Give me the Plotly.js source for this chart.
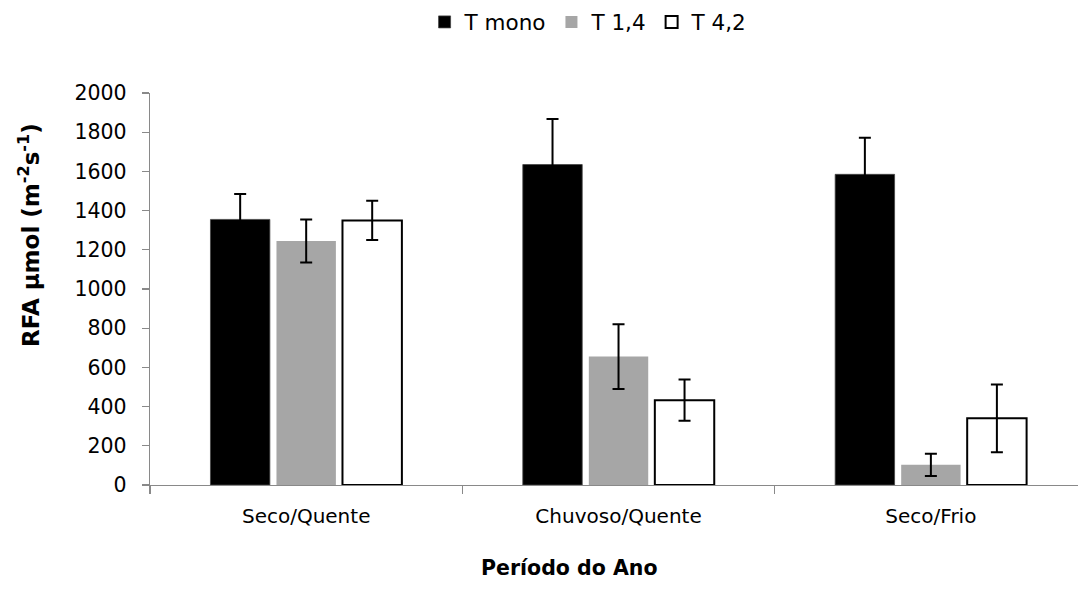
<!DOCTYPE html>
<html>
<head>
<meta charset="utf-8">
<script src="https://cdn.plot.ly/plotly-3.0.1.min.js"></script>
<style>html,body{margin:0;padding:0;background:#fff;overflow:hidden}#chart{width:1078px;height:592px}</style>
</head>
<body>
<div id="chart"></div>
<script>
const categories = ["Seco/Quente", "Chuvoso/Quente", "Seco/Frio"];
const seriesNames = ["T mono", "T 1,4", "T 4,2"];
const tMono = [1355, 1635, 1585];
const tMonoErr = [130, 232, 187];
const t14 = [1245, 655, 103];
const t14Err = [110, 165, 57];
const t42 = [1350, 433, 340];
const t42Err = [100, 105, 173];
const yTicks = [0, 200, 400, 600, 800, 1000, 1200, 1400, 1600, 1800, 2000];

const FONT = "DejaVu Sans, Open Sans, sans-serif";
const err = (a) => ({type: "data", array: a, visible: true, color: "#000", thickness: 2, width: 6});

const traces = [
  {type: "bar", name: seriesNames[0], x: categories, y: tMono, error_y: err(tMonoErr),
   marker: {color: "#000000", line: {color: "#444", width: 0.8}}},
  {type: "bar", name: seriesNames[1], x: categories, y: t14, error_y: err(t14Err),
   marker: {color: "#a6a6a6", line: {color: "#a6a6a6", width: 0}}},
  {type: "bar", name: seriesNames[2], x: categories, y: t42, error_y: err(t42Err),
   marker: {color: "#ffffff", line: {color: "#000000", width: 2}}}
];

const layout = {
  width: 1078, height: 592,
  margin: {l: 150, r: 0, t: 93, b: 107},
  paper_bgcolor: "#fff", plot_bgcolor: "#fff",
  font: {family: FONT, size: 20, color: "#000"},
  barmode: "group", bargap: 0.366, bargroupgap: 0.1,
  showlegend: true,
  legend: {orientation: "h", xref: "container", yref: "container", x: 0.546, xanchor: "center",
           y: 0.963, yanchor: "middle",
           font: {family: FONT, size: 21.5, color: "#000"}, itemwidth: 30, tracegroupgap: 0},
  xaxis: {
    type: "category", range: [-0.5, 2.471], showline: true, linecolor: "#898989", linewidth: 1.3,
    ticks: "outside", tickson: "boundaries", ticklen: 8, tickcolor: "#898989", tickwidth: 1.3,
    showgrid: false, zeroline: false, tickfont: {family: FONT, size: 20, color: "#000"},
    ticklabelstandoff: 13
  },
  yaxis: {
    range: [0, 2000], tickvals: yTicks, showline: true, linecolor: "#898989", linewidth: 1.3,
    ticks: "outside", ticklen: 7, tickcolor: "#898989", tickwidth: 1.3, showgrid: false, zeroline: false,
    tickfont: {family: FONT, size: 20.5, color: "#000"}, ticklabelstandoff: 11
  },
  annotations: [{
    text: "<b>RFA µmol (m<sup>-2</sup>s<sup>-1</sup>)</b>", textangle: -90,
    xref: "paper", yref: "paper", x: -0.1304, y: 0.638, xanchor: "center", yanchor: "middle",
    showarrow: false, font: {family: FONT, size: 23, color: "#000"}
  }, {
    text: "<b>Período do Ano</b>",
    xref: "paper", yref: "paper", x: (569 - 150) / 928, y: -(568 - 485) / 392, xanchor: "center", yanchor: "middle",
    showarrow: false, font: {family: FONT, size: 20.5, color: "#000"}
  }]
};

Plotly.newPlot("chart", traces, layout, {displayModeBar: false, staticPlot: true});
</script>
</body>
</html>
